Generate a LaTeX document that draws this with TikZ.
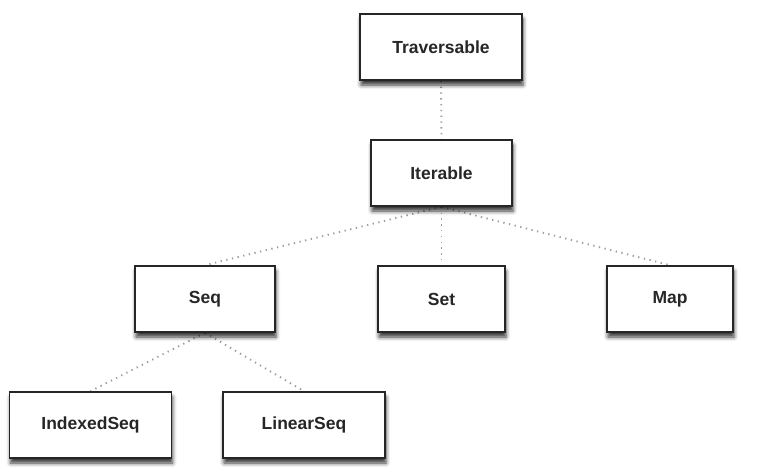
\documentclass[tikz,border=0pt]{standalone}
\usepackage{fontspec}
\setmainfont{Liberation Sans}
\usetikzlibrary{shadows.blur,backgrounds}

\begin{document}
\begin{tikzpicture}[x=1pt, y=-1pt,
    cls/.style = {draw=black!85, line width=1.6pt, fill=white, rectangle,
        minimum height=66pt, inner sep=0pt, text=black!85,
        font=\fontsize{17.5}{20}\selectfont\bfseries,
        blur shadow={shadow xshift=1pt, shadow yshift=-5pt, shadow blur radius=4pt, shadow opacity=80}},
    link/.style = {draw=black!38, line width=1.9pt, dash pattern=on 1.3pt off 4.5pt}]
    \useasboundingbox (0,0) rectangle (759,474);
    \node[cls, minimum width=162pt] (trav) at (441,47) {Traversable};
    \node[cls, minimum width=141pt] (iter) at (441.5,173) {Iterable};
    \node[cls, minimum width=140pt] (seq) at (205,299) {Seq};
    \node[cls, minimum width=127pt] (set) at (441.5,299) {Set};
    \node[cls, minimum width=126pt] (map) at (670,299) {Map};
    \node[cls, minimum width=162pt] (iseq) at (90.5,425) {IndexedSeq};
    \node[cls, minimum width=162pt] (lseq) at (304,425) {LinearSeq};
    \begin{scope}[on background layer]
        \draw[link] (trav.south) -- (iter.north);
        \draw[link] (iter.south) -- (seq.north);
        \draw[link] (iter.south) -- (set.north);
        \draw[link] (iter.south) -- (map.north);
        \draw[link] (seq.south) -- (iseq.north);
        \draw[link] (seq.south) -- (lseq.north);
    \end{scope}
\end{tikzpicture}
\end{document}
